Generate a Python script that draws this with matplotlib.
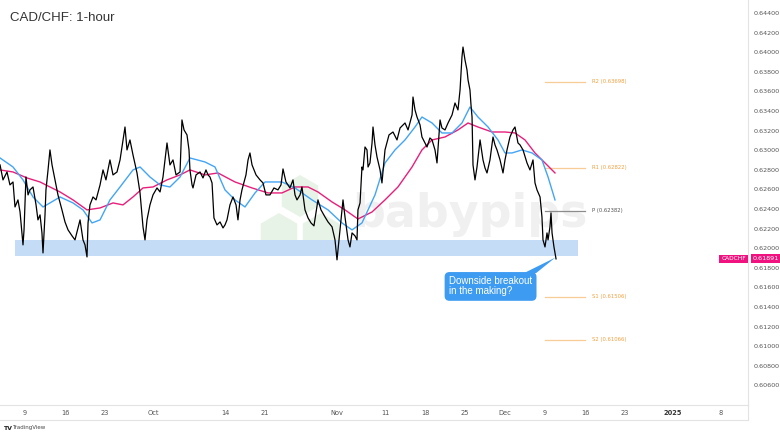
import math
import matplotlib
matplotlib.use("Agg")
import matplotlib.pyplot as plt
import matplotlib.transforms as mtransforms
from matplotlib.patches import Rectangle, Polygon
from matplotlib.lines import Line2D

# x positions are trading days counted from Mon 9 Sep 2024
price_days = [
    -3.12, -2.75, -2.25, -1.88, -1.5, -1.25, -0.88, -0.62, -0.25, -0.12,
    0.12, 0.38, 0.62, 1.0, 1.38, 1.62, 1.88, 2.12, 2.25, 2.5,
    2.62, 2.88, 3.12, 3.38, 3.75, 4.12, 4.62, 5.0, 5.38, 5.88,
    6.25, 6.62, 6.88, 7.25, 7.5, 7.75, 7.88, 8.12, 8.5, 8.88,
    9.38, 9.75, 10.12, 10.62, 11.0, 11.5, 11.88, 12.25, 12.5, 12.75,
    13.12, 13.5, 14.0, 14.38, 14.75, 15.0, 15.25, 15.62, 16.0, 16.5,
    16.88, 17.25, 17.5, 17.75, 18.12, 18.5, 18.88, 19.38, 19.62, 19.88,
    20.25, 20.5, 20.62, 20.88, 21.0, 21.38, 21.88, 22.25, 22.62, 22.88,
    23.12, 23.38, 23.62, 24.0, 24.38, 24.75, 25.0, 25.25, 25.62, 26.0,
    26.38, 26.62, 26.88, 27.12, 27.62, 27.88, 28.12, 28.38, 28.88, 29.38,
    29.75, 30.12, 30.62, 31.12, 31.62, 32.0, 32.25, 32.62, 33.12, 33.5,
    33.75, 34.0, 34.38, 34.62, 35.0, 35.38, 35.75, 36.12, 36.62, 37.0,
    37.5, 37.88, 38.38, 38.75, 39.0, 39.25, 39.38, 39.75, 40.0, 40.38,
    40.62, 40.88, 41.25, 41.5, 41.62, 41.88, 42.12, 42.25, 42.5, 42.75,
    42.88, 43.12, 43.38, 43.5, 43.75, 44.0, 44.38, 44.62, 44.88, 45.0,
    45.5, 46.0, 46.5, 46.88, 47.5, 47.88, 48.38, 48.5, 48.75, 49.0,
    49.38, 49.62, 50.0, 50.25, 50.62, 50.88, 51.25, 51.5, 51.88, 52.12,
    52.5, 52.88, 53.38, 53.75, 54.12, 54.38, 54.62, 54.75, 55.0, 55.25,
    55.38, 55.62, 55.75, 55.88, 56.0, 56.25, 56.5, 56.88, 57.25, 57.5,
    57.75, 58.12, 58.5, 58.75, 59.0, 59.38, 59.75, 60.0, 60.25, 60.62,
    61.0, 61.25, 61.62, 61.88, 62.25, 62.75, 63.12, 63.5, 63.75, 64.0,
    64.38, 64.62, 64.75, 65.0, 65.25, 65.38, 65.62, 65.75, 65.88, 66.12,
    66.38,
]
price_close = [
    0.62850, 0.62697, 0.62778, 0.62646, 0.62676, 0.62421, 0.62493, 0.62370, 0.62034, 0.62187,
    0.62727, 0.62544, 0.62595, 0.62625, 0.62442, 0.62289, 0.62340, 0.62156, 0.61952, 0.62340,
    0.62595, 0.62799, 0.63003, 0.62850, 0.62697, 0.62544, 0.62391, 0.62268, 0.62187, 0.62126,
    0.62085, 0.62207, 0.62289, 0.62085, 0.62034, 0.61911, 0.62258, 0.62442, 0.62523, 0.62493,
    0.62646, 0.62799, 0.62697, 0.62901, 0.62748, 0.62778, 0.62901, 0.63105, 0.63237, 0.63003,
    0.63105, 0.62952, 0.62768, 0.62564, 0.62218, 0.62085, 0.62289, 0.62442, 0.62544, 0.62615,
    0.62574, 0.62727, 0.62901, 0.63074, 0.62850, 0.62901, 0.62748, 0.62778, 0.63309, 0.63207,
    0.63156, 0.63003, 0.62799, 0.62646, 0.62615, 0.62748, 0.62778, 0.62717, 0.62799, 0.62748,
    0.62727, 0.62666, 0.62309, 0.62238, 0.62268, 0.62207, 0.62238, 0.62289, 0.62442, 0.62523,
    0.62442, 0.62289, 0.62493, 0.62595, 0.62748, 0.62901, 0.62972, 0.62850, 0.62748, 0.62697,
    0.62666, 0.62544, 0.62544, 0.62615, 0.62595, 0.62646, 0.62809, 0.62676, 0.62615, 0.62697,
    0.62544, 0.62493, 0.62544, 0.62625, 0.62391, 0.62309, 0.62258, 0.62228, 0.62493, 0.62391,
    0.62319, 0.62268, 0.62218, 0.62085, 0.61881, 0.62085, 0.62187, 0.62493, 0.62319, 0.62085,
    0.62013, 0.62156, 0.62126, 0.62085, 0.62391, 0.62462, 0.62829, 0.62799, 0.63033, 0.63003,
    0.62829, 0.62870, 0.63074, 0.63237, 0.63054, 0.62931, 0.62799, 0.62666, 0.62901, 0.63003,
    0.63156, 0.63186, 0.63105, 0.63227, 0.63278, 0.63207, 0.63360, 0.63543, 0.63411, 0.63339,
    0.63258, 0.63135, 0.63074, 0.63033, 0.63125, 0.63105, 0.63003, 0.62870, 0.63309, 0.63227,
    0.63207, 0.63278, 0.63360, 0.63482, 0.63411, 0.63615, 0.63951, 0.64053, 0.63921, 0.63819,
    0.63717, 0.63615, 0.63462, 0.63339, 0.62850, 0.62697, 0.62829, 0.63105, 0.62901, 0.62819,
    0.62768, 0.62901, 0.63135, 0.63054, 0.63003, 0.62901, 0.62768, 0.62901, 0.63003, 0.63135,
    0.63207, 0.63237, 0.63074, 0.63054, 0.63003, 0.62870, 0.62799, 0.62901, 0.62666, 0.62595,
    0.62523, 0.62319, 0.62085, 0.62013, 0.62156, 0.62085, 0.62218, 0.62360, 0.62156, 0.62013,
    0.61891,
]

ma_fast_days = [-3.12, -1.5, -0.25, 1.0, 2.25, 3.12, 4.38, 6.0, 7.25, 8.38,
                9.38, 10.62, 11.88, 13.5, 14.38, 15.62, 16.88, 18.12, 19.38, 20.62,
                22.5, 23.75, 25.0, 26.25, 27.5, 28.75, 30.0, 32.12, 33.75, 35.88,
                37.88, 39.62, 40.88, 42.12, 43.75, 45.0, 46.25, 47.5, 48.75, 49.62,
                50.88, 52.12, 53.38, 54.62, 55.62, 56.62, 57.88, 59.12, 60.0, 60.88,
                62.12, 63.38, 64.62, 65.38, 66.25]
ma_fast = [0.62921, 0.62829, 0.62697, 0.62523, 0.62421, 0.62462, 0.62523, 0.62462, 0.62391, 0.62258,
           0.62289, 0.62493, 0.62625, 0.62799, 0.62829, 0.62727, 0.62646, 0.62625, 0.62727, 0.62921,
           0.62880, 0.62829, 0.62595, 0.62493, 0.62421, 0.62564, 0.62676, 0.62676, 0.62615, 0.62493,
           0.62391, 0.62258, 0.62187, 0.62258, 0.62544, 0.62870, 0.63003, 0.63105, 0.63237, 0.63339,
           0.63278, 0.63176, 0.63176, 0.63278, 0.63441, 0.63339, 0.63237, 0.63105, 0.62972, 0.62972,
           0.63003, 0.62972, 0.62901, 0.62727, 0.62493]

ma_slow_days = [-3.12, -1.5, 0.25, 1.88, 3.12, 4.38, 6.0, 7.75, 9.38, 11.0,
                12.25, 13.5, 14.75, 16.0, 17.75, 19.38, 20.62, 22.5, 24.12, 26.25,
                28.38, 30.38, 32.12, 33.75, 35.38, 36.62, 38.38, 40.0, 41.62, 43.38,
                45.0, 46.62, 48.38, 49.62, 50.88, 52.5, 54.12, 55.38, 56.62, 58.38,
                60.0, 61.25, 62.5, 63.75, 65.0, 66.25]
ma_slow = [0.62799, 0.62778, 0.62717, 0.62676, 0.62625, 0.62574, 0.62493, 0.62391, 0.62411, 0.62462,
           0.62442, 0.62523, 0.62615, 0.62625, 0.62697, 0.62748, 0.62799, 0.62748, 0.62768, 0.62676,
           0.62615, 0.62564, 0.62564, 0.62625, 0.62625, 0.62574, 0.62472, 0.62391, 0.62298, 0.62370,
           0.62493, 0.62625, 0.62829, 0.63003, 0.63105, 0.63135, 0.63207, 0.63278, 0.63237, 0.63186,
           0.63186, 0.63176, 0.63105, 0.62972, 0.62870, 0.62768]

pivot_names = ["R2", "R1", "P", "S1", "S2"]
pivot_values = [0.63698, 0.62822, 0.62382, 0.61506, 0.61066]
pivot_start, pivot_end = 65.0, 70.0

support_low, support_high = 0.61920, 0.62084
support_start, support_end = -1.25, 69.12

last_price = 0.61891

tick_days = [0, 5, 10, 16, 25, 30, 39, 45, 50, 55, 60, 65, 70, 75, 81, 87]
tick_labels = ["9", "16", "23", "Oct", "14", "21", "Nov", "11", "18", "25",
               "Dec", "9", "16", "23", "2025", "8"]
price_ticks = [0.606 + 0.002 * i for i in range(20)]

W, H = 780, 434
AW, AH = 748, 405  # axes size in pixels
fig = plt.figure(figsize=(W / 100, H / 100), dpi=100, facecolor="white")
ax = fig.add_axes([0, 29 / H, AW / W, AH / H])
ax.set_xlim(-3.125, 90.375)
ax.set_ylim(0.604, 0.64533)


def hexagon(cx, cy, r):
    """Pointy-top hexagon in axes fraction, centre given in pixels from top-left."""
    pts = []
    for k in range(6):
        a = math.radians(90 + 60 * k)
        pts.append(((cx + r * math.cos(a)) / AW, (AH - cy - r * math.sin(a)) / AH))
    return pts


# watermark: hexagon logo + word
for cx, cy in [(300, 196), (279, 234), (321, 234)]:
    ax.add_patch(Polygon(hexagon(cx, cy, 21), closed=True, transform=ax.transAxes,
                         facecolor="#e5f1e3", edgecolor="none", alpha=0.85, zorder=0))
ax.text(0.628, 0.47, "babypips", transform=ax.transAxes, fontsize=33,
        fontweight="bold", color="#f0f0f0", ha="center", va="center", zorder=0)

# support zone
ax.add_patch(Rectangle((support_start, support_low), support_end - support_start,
                       support_high - support_low, facecolor="#c4dcf6",
                       edgecolor="none", zorder=1))

ax.plot(ma_slow_days, ma_slow, color="#e91e7a", lw=1.0, zorder=3)
ax.plot(ma_fast_days, ma_fast, color="#42a5f5", lw=1.0, zorder=3)
ax.plot(price_days, price_close, color="black", lw=0.9, zorder=4)

# pivot levels
for name, val in zip(pivot_names, pivot_values):
    if name == "P":
        lc, tc = "#8c8c8c", "#555555"
    else:
        lc, tc = "#f8cc96", "#f0a040"
    ax.plot([pivot_start, pivot_end], [val, val], color=lc, lw=0.9, zorder=2)
    ax.text(pivot_end + 0.9, val, f"{name} ({val:.5f})", fontsize=3.8,
            color=tc, va="center", ha="left")

# callout
ax.add_patch(Polygon([(62.4, 0.61747), (63.9, 0.61747), (66.3, 0.61905)],
                     closed=True, facecolor="#3d9bf2", edgecolor="none", zorder=5))
ax.text(53.0, 0.61712, "Downside breakout\nin the making?", fontsize=7,
        family="Liberation Sans", color="white", ha="left", va="top",
        linespacing=1.0, zorder=6,
        bbox=dict(boxstyle="round,pad=0.45,rounding_size=0.5",
                  fc="#3d9bf2", ec="none"))

# axes styling
for side in ["top", "left"]:
    ax.spines[side].set_visible(False)
for side in ["bottom", "right"]:
    ax.spines[side].set_color("#e3e3e3")
    ax.spines[side].set_linewidth(0.8)
ax.yaxis.tick_right()
ax.set_yticks(price_ticks)
ax.set_yticklabels([f"{v:.5f}" for v in price_ticks])
ax.set_xticks(tick_days)
ax.set_xticklabels(tick_labels)
ax.tick_params(axis="y", length=0, pad=4, labelsize=4.6, labelcolor="#555555")
ax.tick_params(axis="x", length=0, pad=3.5, labelsize=4.8, labelcolor="#555555")
for lab in ax.get_xticklabels():
    if lab.get_text() == "2025":
        lab.set_fontweight("bold")
        lab.set_color("#333333")

fig.add_artist(Line2D([0, AW / W], [(H - 420) / H] * 2, color="#e3e3e3", lw=0.8))
fig.add_artist(Line2D([AW / W] * 2, [(H - 420) / H, 29 / H], color="#e3e3e3", lw=0.8))

# last price tags
yx = mtransforms.blended_transform_factory(ax.transAxes, ax.transData)
ax.text(0.997, last_price, "CADCHF", transform=yx, fontsize=4.2, color="white",
        ha="right", va="center", clip_on=False,
        bbox=dict(boxstyle="square,pad=0.3", fc="#f0137f", ec="none"))
ax.text(1.006, last_price, f"{last_price:.5f}", transform=yx, fontsize=4.6,
        color="white", ha="left", va="center", clip_on=False,
        bbox=dict(boxstyle="square,pad=0.3", fc="#f0137f", ec="none"))

fig.text(10 / W, 1 - 18 / H, "CAD/CHF: 1-hour", fontsize=9.5,
         family="Liberation Sans", color="#333333", ha="left", va="center")
fig.text(3 / W, 1 - 428 / H, "TV", fontsize=4.5, fontweight="bold",
         color="#222222", ha="left", va="center")
fig.text(12 / W, 1 - 428 / H, "TradingView", fontsize=4, color="#444444",
         ha="left", va="center")

fig.savefig("out.png", dpi=100, facecolor="white")
